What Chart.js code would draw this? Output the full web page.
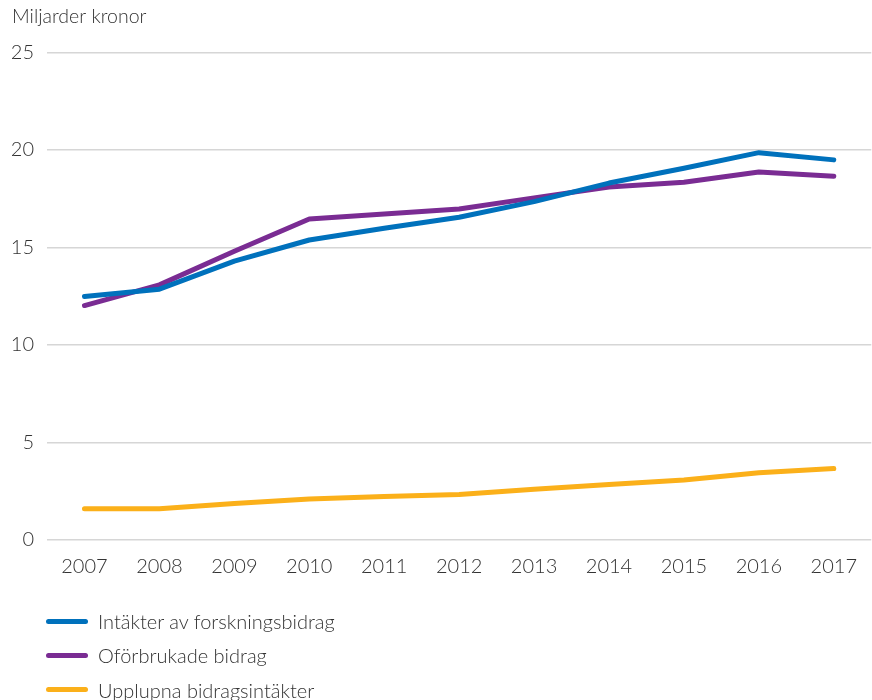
<!DOCTYPE html>
<html>
<head>
<meta charset="utf-8">
<script src="https://cdn.jsdelivr.net/npm/chart.js@4.4.0/dist/chart.umd.min.js"></script>
<style>
  html, body { margin: 0; padding: 0; background: #ffffff; }
  #wrap { position: relative; width: 872px; height: 700px; }
  #legend { position: absolute; left: 46px; top: 604px; font-family: Lato, "Open Sans", sans-serif; font-weight: 300; font-size: 20px; color: #333333; }
  .item { display: flex; align-items: center; height: 34.3px; }
  .swatch { width: 42px; height: 5px; border-radius: 3px; margin-right: 10px; }
</style>
</head>
<body>
<div id="wrap">
  <canvas id="c" width="872" height="700"></canvas>
  <div id="legend"></div>
</div>
<script>
const years = ['2007','2008','2009','2010','2011','2012','2013','2014','2015','2016','2017'];
const intakter = [12.48, 12.86, 14.3, 15.38, 15.98, 16.55, 17.35, 18.3, 19.06, 19.86, 19.49];
const oforbrukade = [12.02, 13.08, 14.8, 16.46, 16.72, 16.97, 17.54, 18.1, 18.34, 18.87, 18.65];
const upplupna = [1.6, 1.6, 1.87, 2.1, 2.23, 2.33, 2.6, 2.84, 3.08, 3.45, 3.66];
const seriesNames = ['Intäkter av forskningsbidrag', 'Oförbrukade bidrag', 'Upplupna bidragsintäkter'];
const colors = ['#0071bc', '#7a2c93', '#fbb01a'];
const yTicks = [0, 5, 10, 15, 20, 25];

const FONT = { family: 'Lato, "Open Sans", sans-serif', size: 20, weight: 300 };

const mk = (label, data, color) => ({
  label, data, borderColor: color, backgroundColor: color,
  borderWidth: 5, pointRadius: 0, pointHoverRadius: 0, tension: 0,
  borderCapStyle: 'round', borderJoinStyle: 'round', fill: false
});

new Chart(document.getElementById('c'), {
  type: 'line',
  data: {
    labels: years,
    datasets: [
      mk(seriesNames[0], intakter, colors[0]),
      mk(seriesNames[1], oforbrukade, colors[1]),
      mk(seriesNames[2], upplupna, colors[2])
    ]
  },
  options: {
    responsive: false,
    animation: false,
    devicePixelRatio: 1,
    layout: { padding: { left: 12, right: 0, top: 0, bottom: 110 } },
    plugins: {
      legend: { display: false },
      tooltip: { enabled: false },
      title: {
        display: true, text: 'Miljarder kronor', align: 'start', color: '#333333',
        font: { family: FONT.family, size: 19.5, weight: 300 },
        padding: { top: 5, bottom: 24 }
      }
    },
    scales: {
      x: {
        offset: true,
        grid: { display: false, drawTicks: false },
        border: { display: false },
        ticks: { color: '#333333', font: FONT, padding: 15, maxRotation: 0 },
        afterFit: (s) => { s.height = 50; }
      },
      y: {
        min: 0, max: 25,
        afterBuildTicks: (s) => { s.ticks = yTicks.map(v => ({ value: v })); },
        grid: { color: '#d6d6d6', lineWidth: 1.5, drawTicks: false },
        border: { display: false },
        ticks: { color: '#333333', font: FONT, padding: 13 },
        afterFit: (s) => { s.width = 35; }
      }
    }
  }
});

const leg = document.getElementById('legend');
seriesNames.forEach((n, i) => {
  const d = document.createElement('div');
  d.className = 'item';
  d.innerHTML = '<span class="swatch" style="background:' + colors[i] + '"></span><span>' + n + '</span>';
  leg.appendChild(d);
});
</script>
</body>
</html>
